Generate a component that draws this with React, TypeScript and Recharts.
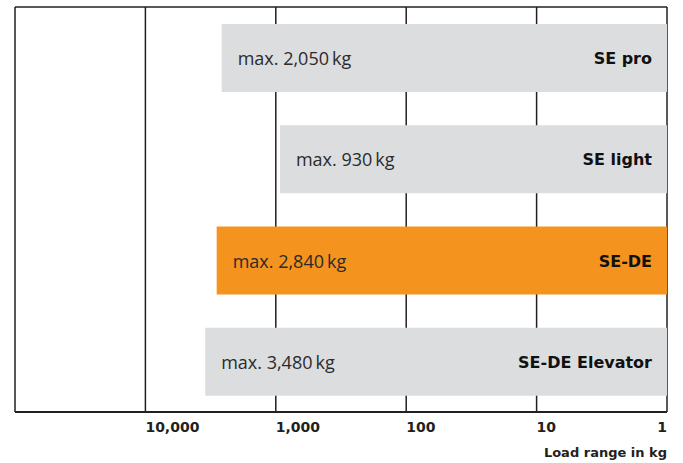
import React from 'react';
import { BarChart, Bar, XAxis, YAxis, CartesianGrid, Cell, LabelList } from 'recharts';

const products = ['SE pro', 'SE light', 'SE-DE', 'SE-DE Elevator'];
const maxLoads = [2600, 930, 2840, 3480];
const maxLabels = ['max. 2,050\u2009kg', 'max. 930\u2009kg', 'max. 2,840\u2009kg', 'max. 3,480\u2009kg'];
const highlighted = [false, false, true, false];
const minLoad = 1;
const xTicks = [10000, 1000, 100, 10, 1];
const xDomain = [1, 100000];

const data = products.map((name, i) => ({
  name,
  range: [minLoad, maxLoads[i]],
  label: maxLabels[i],
}));

const GRAY = '#DCDDDF';
const ORANGE = '#F4931E';
const INK = '#231F20';
const FONT = '"DejaVu Sans", Verdana, sans-serif';
const LIGHT_FONT = '"Open Sans", "DejaVu Sans", sans-serif';

const renderTick = (props: any) => {
  const { x, y, payload } = props;
  const v = payload.value as number;
  const last = v === 1;
  return (
    <text
      x={x}
      y={y}
      dy={20}
      textAnchor={last ? 'end' : 'start'}
      fontFamily={FONT}
      fontWeight="bold"
      fontSize={14}
      fill={INK}
    >
      {v.toLocaleString('en-US')}
    </text>
  );
};

const renderBarLabels = (props: any) => {
  const { x, y, width, height, index } = props;
  const left = Math.min(x, x + width);
  const right = Math.max(x, x + width);
  const cy = y + height / 2;
  return (
    <g>
      <text x={left + 16} y={cy} dy={7} fontFamily={LIGHT_FONT} fontSize={18} fill="#2b2b2b">
        {maxLabels[index]}
      </text>
      <text
        x={right - 15}
        y={cy}
        dy={6}
        textAnchor="end"
        fontFamily={FONT}
        fontWeight="bold"
        fontSize={16}
        fill="#111"
      >
        {products[index]}
      </text>
    </g>
  );
};

export default function App() {
  return (
    <div style={{ position: 'absolute', left: 0, top: 0, background: '#fff' }}>
      <BarChart
        width={683}
        height={463}
        data={data}
        layout="vertical"
        margin={{ top: 7, right: 16, bottom: 6, left: 15 }}
      >
        <CartesianGrid
          vertical
          horizontal
          horizontalPoints={[7]}
          stroke={INK}
          strokeWidth={1.5}
        />
        <XAxis
          type="number"
          scale="log"
          domain={xDomain}
          reversed
          allowDataOverflow
          ticks={xTicks}
          interval={0}
          tickLine={false}
          tickSize={0}
          tickMargin={0}
          height={45}
          axisLine={{ stroke: INK, strokeWidth: 2 }}
          tick={renderTick}
          label={{
            value: 'Load range in kg',
            position: 'insideBottomRight',
            offset: 0,
            fontFamily: FONT,
            fontWeight: 'bold',
            fontSize: 13,
            fill: INK,
          }}
        />
        <YAxis
          type="category"
          dataKey="name"
          width={0}
          tick={false}
          tickLine={false}
          axisLine={{ stroke: INK, strokeWidth: 2 }}
        />
        <Bar dataKey="range" barSize={68} isAnimationActive={false}>
          {data.map((d, i) => (
            <Cell key={d.name} fill={highlighted[i] ? ORANGE : GRAY} />
          ))}
          <LabelList dataKey="label" content={renderBarLabels} />
        </Bar>
      </BarChart>
    </div>
  );
}
